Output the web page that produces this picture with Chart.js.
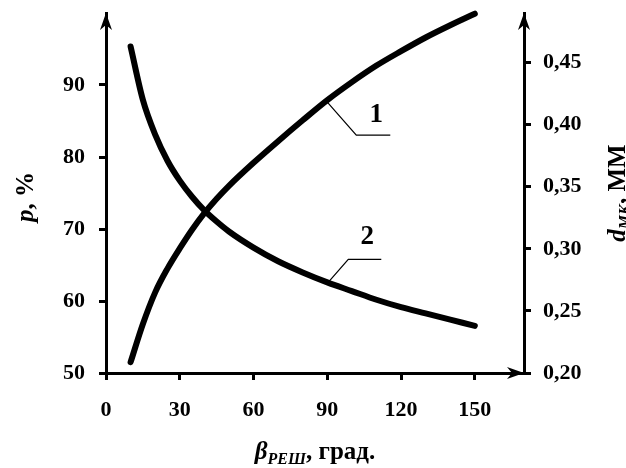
<!DOCTYPE html>
<html lang="ru">

<head>
    <meta charset="UTF-8">
    <title>p и d_МК от угла решетки</title>
    <script src="https://cdn.jsdelivr.net/npm/chart.js"></script>
    <style>
        html,
        body {
            margin: 0;
            padding: 0;
            background: #fff;
        }
    </style>
</head>

<body>
    <canvas id="grafik" width="626" height="468"></canvas>

    <script>
        // угол решетки, град.
        const beta = [10, 15, 20, 25, 30, 35, 40, 45, 50, 60, 70, 80, 90, 100, 110, 120, 130, 140, 150];
        // кривая 1: p, %
        const pProc = [51.5, 56.8, 61.2, 64.5, 67.3, 69.9, 72.2, 74.2, 76.0, 79.2, 82.2, 85.1, 87.9, 90.4, 92.7, 94.7, 96.6, 98.3, 99.9];
        // кривая 2: d_МК, мм
        const dMk = [0.463, 0.420, 0.392, 0.371, 0.355, 0.342, 0.331, 0.322, 0.314, 0.301, 0.290, 0.281, 0.273, 0.266, 0.259, 0.253, 0.248, 0.243, 0.238];

        const xTiki = [0, 30, 60, 90, 120, 150];
        const pTiki = [50, 60, 70, 80, 90];
        const dTiki = [0.20, 0.25, 0.30, 0.35, 0.40, 0.45];

        const SHRIFT = '"Liberation Serif", "Times New Roman", serif';
        const tikShrift = { family: SHRIFT, size: 22, weight: 'bold' };

        function strelka(ctx, x, y, kuda) {
            ctx.save();
            ctx.translate(x, y);
            if (kuda === 'right') ctx.rotate(Math.PI / 2);
            ctx.beginPath();
            ctx.moveTo(0, 0);
            ctx.lineTo(-6, 17);
            ctx.lineTo(0, 12);
            ctx.lineTo(6, 17);
            ctx.closePath();
            ctx.fill();
            ctx.restore();
        }

        // текст из кусков: обычный, курсив, нижний индекс
        function tekst(ctx, kuski, x, y, ugol) {
            ctx.save();
            ctx.translate(x, y);
            ctx.rotate(ugol);
            ctx.textBaseline = 'alphabetic';
            ctx.textAlign = 'left';
            let w = 0;
            kuski.forEach(k => {
                ctx.font = k.f;
                w += ctx.measureText(k.t).width;
            });
            let cx = -w / 2;
            kuski.forEach(k => {
                ctx.font = k.f;
                ctx.fillText(k.t, cx, k.dy || 0);
                cx += ctx.measureText(k.t).width;
            });
            ctx.restore();
        }

        const podpisi = {
            id: 'podpisi',
            beforeDraw(chart) {
                const ctx = chart.ctx;
                ctx.save();
                ctx.fillStyle = '#fff';
                ctx.fillRect(0, 0, chart.width, chart.height);
                ctx.restore();
            },
            afterDraw(chart) {
                const ctx = chart.ctx;
                const a = chart.chartArea;
                const xs = chart.scales.x;
                const yp = chart.scales.yP;
                const yd = chart.scales.yD;
                ctx.save();
                ctx.fillStyle = '#000';
                ctx.strokeStyle = '#000';

                strelka(ctx, a.left, a.top, 'up');
                strelka(ctx, a.right, a.top, 'up');
                strelka(ctx, a.right, a.bottom, 'right');

                // выноски 1 и 2 у точки beta = 90
                const i90 = beta.indexOf(90);
                const x90 = xs.getPixelForValue(90);
                const y1 = yp.getPixelForValue(pProc[i90]);
                const y2 = yd.getPixelForValue(dMk[i90]);
                ctx.lineWidth = 1.2;
                ctx.beginPath();
                ctx.moveTo(x90, y1 + 2);
                ctx.lineTo(x90 + 29, y1 + 35);
                ctx.lineTo(x90 + 63, y1 + 35);
                ctx.moveTo(x90, y2 + 1);
                ctx.lineTo(x90 + 21, y2 - 23);
                ctx.lineTo(x90 + 54, y2 - 23);
                ctx.stroke();

                ctx.font = 'bold 27px ' + SHRIFT;
                ctx.textAlign = 'center';
                ctx.textBaseline = 'middle';
                ctx.fillText('1', x90 + 49, y1 + 15);
                ctx.fillText('2', x90 + 40, y2 - 45);

                const bi = 'bold italic 25px ' + SHRIFT;
                const b = 'bold 25px ' + SHRIFT;
                const sub = 'bold italic 16px ' + SHRIFT;
                const midY = (a.top + a.bottom) / 2;

                tekst(ctx, [{ t: 'p', f: bi }, { t: ', %', f: b }], 33, midY + 4, -Math.PI / 2);
                tekst(ctx, [{ t: 'd', f: bi }, { t: 'МК', f: sub, dy: 5 }, { t: ', ММ', f: b }], 625, midY, -Math.PI / 2);
                tekst(ctx, [{ t: 'β', f: bi }, { t: 'РЕШ', f: sub, dy: 5 }, { t: ', град.', f: b }], (a.left + a.right) / 2, 459, 0);
                ctx.restore();
            }
        };

        function osTiki(spisok) {
            return scale => {
                scale.ticks = spisok.map(v => ({ value: v }));
            };
        }

        const setka = {
            drawOnChartArea: false,
            drawTicks: true,
            tickLength: 7,
            lineWidth: 3,
            color: '#000'
        };
        const rama = { display: true, color: '#000', width: 3 };

        new Chart(document.getElementById('grafik'), {
            type: 'line',
            data: {
                datasets: [{
                    label: '1',
                    data: beta.map((b, i) => ({ x: b, y: pProc[i] })),
                    yAxisID: 'yP',
                    borderColor: '#000',
                    borderWidth: 6,
                    borderCapStyle: 'round',
                    pointRadius: 0,
                    cubicInterpolationMode: 'monotone',
                    fill: false,
                    clip: 10
                }, {
                    label: '2',
                    data: beta.map((b, i) => ({ x: b, y: dMk[i] })),
                    yAxisID: 'yD',
                    borderColor: '#000',
                    borderWidth: 6,
                    borderCapStyle: 'round',
                    pointRadius: 0,
                    cubicInterpolationMode: 'monotone',
                    fill: false,
                    clip: 10
                }]
            },
            options: {
                responsive: false,
                devicePixelRatio: 1,
                animation: false,
                layout: {
                    padding: { top: 13, left: 0, right: 0, bottom: 0 }
                },
                plugins: {
                    legend: { display: false },
                    tooltip: { enabled: false }
                },
                scales: {
                    x: {
                        type: 'linear',
                        position: 'bottom',
                        min: 0,
                        max: 170,
                        afterBuildTicks: osTiki(xTiki),
                        afterFit: s => { s.height = 95; s.paddingLeft = 0; s.paddingRight = 0; },
                        ticks: { font: tikShrift, color: '#000', padding: 17, maxRotation: 0, autoSkip: false },
                        grid: setka,
                        border: rama
                    },
                    yP: {
                        type: 'linear',
                        position: 'left',
                        min: 50,
                        max: 100,
                        afterBuildTicks: osTiki(pTiki),
                        afterFit: s => { s.width = 106; s.paddingTop = 0; s.paddingBottom = 0; },
                        ticks: { font: tikShrift, color: '#000', padding: 14, autoSkip: false },
                        grid: setka,
                        border: rama
                    },
                    yD: {
                        type: 'linear',
                        position: 'right',
                        min: 0.2,
                        max: 0.49,
                        afterBuildTicks: osTiki(dTiki),
                        afterFit: s => { s.width = 102; s.paddingTop = 0; s.paddingBottom = 0; },
                        ticks: {
                            font: tikShrift,
                            color: '#000',
                            padding: 12,
                            autoSkip: false,
                            callback: v => v.toFixed(2).replace('.', ',')
                        },
                        grid: setka,
                        border: rama
                    }
                }
            },
            plugins: [podpisi]
        });
    </script>

</body>

</html>
